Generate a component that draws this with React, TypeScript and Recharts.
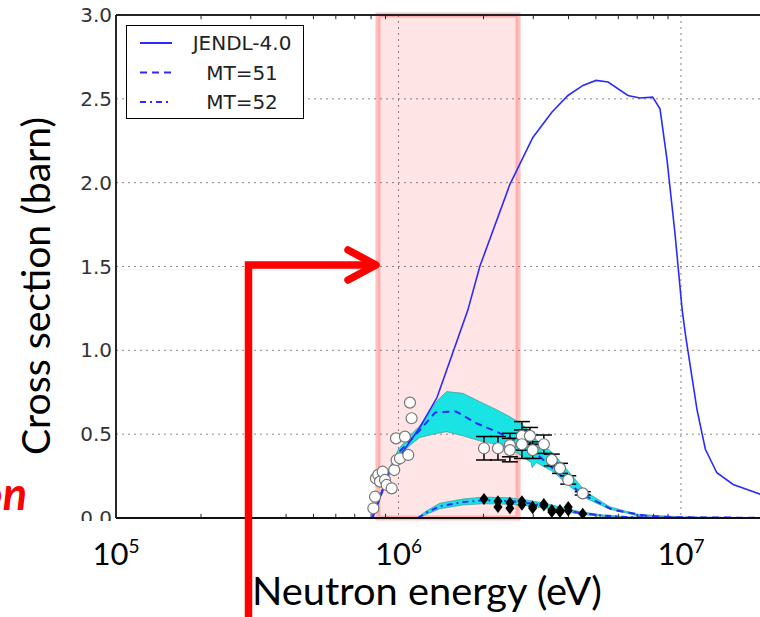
import React from "react";
import {
  ComposedChart,
  Line,
  Area,
  Scatter,
  ErrorBar,
  XAxis,
  YAxis,
  CartesianGrid,
  ReferenceArea,
  ReferenceLine,
} from "recharts";

// JENDL-4.0 total inelastic (solid line)
const jendlE = [8.05e5, 9.33e5, 1.19e6, 1.37e6, 1.76e6, 1.94e6, 2.48e6, 2.99e6, 3.49e6, 3.98e6, 4.5e6, 5.0e6, 5.52e6, 6.49e6, 7.16e6, 7.94e6, 8.43e6, 8.92e6, 9.52e6, 1.01e7, 1.04e7, 1.14e7, 1.22e7, 1.34e7, 1.53e7, 2.0e7];
const jendlXs = [0, 0.286, 0.54, 0.72, 1.24, 1.5, 1.99, 2.27, 2.42, 2.52, 2.58, 2.61, 2.6, 2.52, 2.505, 2.51, 2.44, 2.14, 1.7, 1.24, 1.08, 0.645, 0.41, 0.27, 0.2, 0.13];

// MT=51 (dashed) and its uncertainty band
const mt51E = [8.1e5, 9.3e5, 1.0e6, 1.11e6, 1.2e6, 1.35e6, 1.6e6, 1.89e6, 2.29e6, 2.69e6, 3.16e6, 3.68e6, 4.4e6, 5.7e6, 7.6e6, 1.0e7, 2.0e7];
const mt51Xs = [0, 0.28, 0.39, 0.47, 0.53, 0.63, 0.635, 0.565, 0.505, 0.45, 0.366, 0.267, 0.149, 0.05, 0.012, 0.004, 0.001];

const band51E = [8.1e5, 9.3e5, 1.0e6, 1.11e6, 1.19e6, 1.37e6, 1.48e6, 1.69e6, 1.94e6, 2.2e6, 2.48e6, 2.73e6, 2.95e6, 2.97e6, 3.08e6, 3.53e6, 4.05e6, 4.6e6, 5.6e6, 7.0e6, 1.0e7, 2.0e7];
const band51Lo = [0, 0.26, 0.37, 0.44, 0.48, 0.505, 0.515, 0.49, 0.46, 0.44, 0.42, 0.37, 0.33, 0.3, 0.33, 0.276, 0.187, 0.118, 0.052, 0.014, 0.003, 0.001];
const band51Hi = [0.01, 0.3, 0.41, 0.5, 0.55, 0.7, 0.754, 0.744, 0.694, 0.65, 0.604, 0.56, 0.51, 0.5, 0.465, 0.386, 0.267, 0.157, 0.067, 0.022, 0.006, 0.002];

// MT=52 (dash-dot) and its uncertainty band
const mt52E = [1.17e6, 1.25e6, 1.4e6, 1.69e6, 2.0e6, 2.5e6, 2.9e6, 3.3e6, 3.8e6, 4.4e6, 5.2e6, 6.5e6, 1.0e7, 2.0e7];
const mt52Xs = [0, 0.03, 0.07, 0.095, 0.105, 0.1, 0.088, 0.072, 0.05, 0.03, 0.015, 0.005, 0.001, 0];
const band52Lo = [0, 0.02, 0.055, 0.078, 0.085, 0.082, 0.072, 0.058, 0.04, 0.022, 0.01, 0.003, 0, 0];
const band52Hi = [0.002, 0.04, 0.088, 0.113, 0.125, 0.12, 0.105, 0.088, 0.062, 0.038, 0.02, 0.007, 0.002, 0];

// experimental points, MT=51 (open circles)
const expE = [8.15e5, 8.26e5, 8.32e5, 8.48e5, 8.6e5, 8.79e5, 8.96e5, 9.08e5, 9.46e5, 9.66e5, 9.8e5, 9.85e5, 1.012e6, 1.054e6, 1.083e6, 1.098e6, 1.113e6];
const expXs = [0.058, 0.127, 0.236, 0.257, 0.217, 0.276, 0.227, 0.197, 0.177, 0.286, 0.475, 0.346, 0.356, 0.485, 0.376, 0.688, 0.595];

const expErrE = [2.008e6, 2.25e6, 2.48e6, 2.48e6, 2.735e6, 2.735e6, 2.92e6, 2.985e6, 3.27e6, 3.49e6, 3.73e6, 3.99e6, 4.49e6];
const expErrXs = [0.416, 0.416, 0.435, 0.405, 0.49, 0.44, 0.49, 0.405, 0.44, 0.346, 0.296, 0.227, 0.147];
const expErr = [0.07, 0.07, 0.07, 0.07, 0.085, 0.085, 0.05, 0.05, 0.055, 0.035, 0.03, 0.025, 0.01];

// experimental points, MT=52 (filled diamonds)
const diaE = [2.008e6, 2.25e6, 2.25e6, 2.48e6, 2.48e6, 2.735e6, 2.735e6, 2.985e6, 2.985e6, 3.27e6, 3.27e6, 3.49e6, 3.49e6, 3.73e6, 3.73e6, 3.99e6, 3.99e6, 4.49e6];
const diaXs = [0.113, 0.1, 0.065, 0.091, 0.058, 0.1, 0.079, 0.068, 0.058, 0.083, 0.075, 0.047, 0.036, 0.047, 0.036, 0.065, 0.045, 0.026];

const xTicks = [1e5, 1e6, 1e7];
const yTicks = [0, 0.5, 1.0, 1.5, 2.0, 2.5, 3.0];
const minorTicks = [2e5, 3e5, 4e5, 5e5, 6e5, 7e5, 8e5, 9e5, 2e6, 3e6, 4e6, 5e6, 6e6, 7e6, 8e6, 9e6];
const highlight = [8.46e5, 2.65e6];

const legendItems = [
  { name: "JENDL-4.0", dash: undefined },
  { name: "MT=51", dash: "7 5" },
  { name: "MT=52", dash: "6 4 2 4" },
];

const jendl = jendlE.map((e, i) => ({ e, v: jendlXs[i] }));
const mt51 = mt51E.map((e, i) => ({ e, v: mt51Xs[i] }));
const band51 = band51E.map((e, i) => ({ e, range: [band51Lo[i], band51Hi[i]] }));
const mt52 = mt52E.map((e, i) => ({ e, v: mt52Xs[i] }));
const band52 = mt52E.map((e, i) => ({ e, range: [band52Lo[i], band52Hi[i]] }));
const expPts = expE.map((e, i) => ({ e, v: expXs[i] }));
const expErrPts = expErrE.map((e, i) => ({ e, v: expErrXs[i], err: expErr[i] }));
const diaPts = diaE.map((e, i) => ({ e, v: diaXs[i] }));

const BLUE = "#2b2bff";
const CYAN = "#19e3e3";

const OpenCircle = (p: any) => (
  <circle cx={p.cx} cy={p.cy} r={5.5} fill="#fff" stroke="#777" strokeWidth={1.2} />
);

const Diamond = (p: any) => (
  <polygon
    points={`${p.cx},${p.cy - 6} ${p.cx + 4.5},${p.cy} ${p.cx},${p.cy + 6} ${p.cx - 4.5},${p.cy}`}
    fill="#000"
  />
);

const PowerTick = (p: any) => {
  const exp = Math.round(Math.log10(p.payload.value));
  return (
    <text x={p.x} y={p.y + 47} textAnchor="middle" fontFamily="Lato" fill="#000">
      <tspan fontSize={31}>10</tspan>
      <tspan fontSize={19} dy={-12}>{exp}</tspan>
    </text>
  );
};

export default function App() {
  return (
    <div
      style={{
        position: "fixed",
        left: 0,
        top: 0,
        width: 760,
        height: 617,
        overflow: "hidden",
        background: "#fff",
      }}
    >
      <div style={{ position: "absolute", left: 0, top: 0 }}>
        <ComposedChart
          width={800}
          height={617}
          margin={{ top: 15, right: 34, bottom: 49, left: 56 }}
        >
          <CartesianGrid
            stroke="#888"
            strokeDasharray="2 4"
            horizontalValues={[0.5, 1.0, 1.5, 2.0, 2.5]}
            verticalValues={[1e6, 1e7]}
          />
          <XAxis
            dataKey="e"
            type="number"
            scale="log"
            domain={[1e5, 2e7]}
            ticks={xTicks}
            allowDataOverflow
            height={50}
            tickSize={0}
            tickMargin={0}
            tickLine={false}
            axisLine={{ stroke: "#111", strokeWidth: 1.8 }}
            tick={<PowerTick />}
          />
          <YAxis
            type="number"
            domain={[0, 3]}
            ticks={yTicks}
            allowDataOverflow
            width={60}
            tickSize={0}
            tickMargin={4}
            tickLine={false}
            axisLine={{ stroke: "#111", strokeWidth: 1.8 }}
            tickFormatter={(v: number) => v.toFixed(1)}
            tick={{ fontFamily: "DejaVu Sans", fontSize: 20, fill: "#333" }}
          />
          <ReferenceLine y={3} stroke="#222" strokeWidth={1.8} />
          {minorTicks.map((m) => (
            <ReferenceLine
              key={`b${m}`}
              segment={[{ x: m, y: 0 }, { x: m, y: 0.025 }]}
              stroke="#222"
            />
          ))}
          {minorTicks.map((m) => (
            <ReferenceLine
              key={`t${m}`}
              segment={[{ x: m, y: 3 }, { x: m, y: 2.975 }]}
              stroke="#222"
            />
          ))}
          <ReferenceArea
            x1={highlight[0]}
            x2={highlight[1]}
            y1={0}
            y2={3}
            fill="#ff0000"
            fillOpacity={0.1}
            stroke="#ff3030"
            strokeOpacity={0.3}
            strokeWidth={5}
          />
          <Area
            data={band51}
            dataKey="range"
            type="linear"
            fill={CYAN}
            fillOpacity={1}
            stroke="#3a9a9a"
            strokeWidth={0.7}
            isAnimationActive={false}
          />
          <Area
            data={band52}
            dataKey="range"
            type="linear"
            fill={CYAN}
            fillOpacity={1}
            stroke="#3a9a9a"
            strokeWidth={0.7}
            isAnimationActive={false}
          />
          <Line
            data={jendl}
            dataKey="v"
            type="linear"
            stroke={BLUE}
            strokeWidth={1.6}
            dot={false}
            isAnimationActive={false}
          />
          <Line
            data={mt51}
            dataKey="v"
            type="linear"
            stroke={BLUE}
            strokeWidth={2}
            strokeDasharray="7 5"
            dot={false}
            isAnimationActive={false}
          />
          <Line
            data={mt52}
            dataKey="v"
            type="linear"
            stroke={BLUE}
            strokeWidth={2}
            strokeDasharray="6 4 2 4"
            dot={false}
            isAnimationActive={false}
          />
          <Scatter data={expPts} dataKey="v" shape={OpenCircle} isAnimationActive={false} />
          <Scatter data={expErrPts} dataKey="v" shape={OpenCircle} isAnimationActive={false}>
            <ErrorBar dataKey="err" direction="y" width={8} stroke="#000" strokeWidth={1.5} />
          </Scatter>
          <Scatter data={diaPts} dataKey="v" shape={Diamond} isAnimationActive={false} />
        </ComposedChart>
      </div>

      {/* legend box */}
      <div
        style={{
          position: "absolute",
          left: 126,
          top: 25,
          width: 178,
          height: 94,
          border: "1.5px solid #000",
          boxSizing: "border-box",
          background: "#fff",
        }}
      >
        <svg width={175} height={91} style={{ display: "block" }}>
          {legendItems.map((it, i) => (
            <g key={it.name}>
              <line
                x1={13}
                x2={45}
                y1={17 + i * 29.5}
                y2={17 + i * 29.5}
                stroke={BLUE}
                strokeWidth={2}
                strokeDasharray={it.dash}
              />
              <text
                x={115}
                y={17 + i * 29.5}
                dy="0.36em"
                textAnchor="middle"
                fontFamily="DejaVu Sans"
                fontSize={20}
                fill="#222"
              >
                {it.name}
              </text>
            </g>
          ))}
        </svg>
      </div>

      {/* slide annotations */}
      <svg
        width={760}
        height={617}
        style={{ position: "absolute", left: 0, top: 0, pointerEvents: "none" }}
      >
        <rect x={68} y={521} width={46} height={22} fill="#fff" />
        <text
          x={27}
          y={510}
          textAnchor="end"
          fontFamily="Lato"
          fontWeight="bold"
          fontStyle="italic"
          fontSize={45}
          fill="#ff0000"
        >
          on
        </text>
        <text
          transform="translate(50,455) rotate(-90)"
          fontFamily="Lato"
          fontSize={38}
          fill="#000"
          textLength={338}
          lengthAdjust="spacingAndGlyphs"
        >
          Cross section (barn)
        </text>
        <text
          x={252}
          y={605}
          fontFamily="Lato"
          fontSize={38}
          fill="#000"
          textLength={350}
          lengthAdjust="spacingAndGlyphs"
        >
          Neutron energy (eV)
        </text>
        <path
          d="M248.5,617 V265 H372"
          fill="none"
          stroke="#ff0000"
          strokeWidth={7.5}
        />
        <path
          d="M348,250 L376,265 L348,280"
          fill="none"
          stroke="#ff0000"
          strokeWidth={7.5}
          strokeLinecap="round"
          strokeLinejoin="round"
        />
      </svg>
    </div>
  );
}
